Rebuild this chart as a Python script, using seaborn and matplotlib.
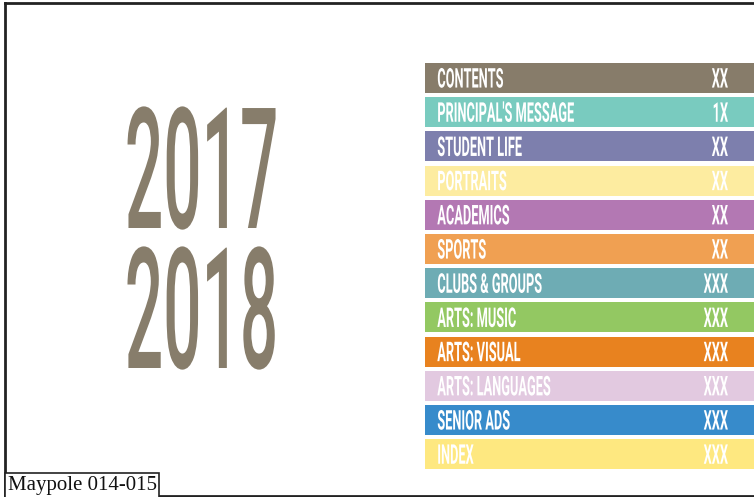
import matplotlib
matplotlib.use("Agg")
import matplotlib.pyplot as plt
import matplotlib.patheffects as pe
from matplotlib.transforms import Affine2D
from matplotlib.lines import Line2D
import seaborn as sns
import pandas as pd

# ---------------- data ----------------
sections = ["CONTENTS", "PRINCIPAL'S MESSAGE", "STUDENT LIFE", "PORTRAITS",
            "ACADEMICS", "SPORTS", "CLUBS & GROUPS", "ARTS: MUSIC",
            "ARTS: VISUAL", "ARTS: LANGUAGES", "SENIOR ADS", "INDEX"]
pages = ["XX", "1X", "XX", "XX", "XX", "XX", "XXX", "XXX", "XXX", "XXX", "XXX", "XXX"]
bar_colors = ["#877c6a", "#79cbbf", "#7d7fad", "#fdeca0", "#b378b3", "#f0a052",
              "#6eacb4", "#93c862", "#e8821f", "#e2c9e0", "#378bcb", "#fee880"]
bar_length = [1] * len(sections)
years = ["2017", "2018"]
footer = "Maypole 014-015"

YEAR_COLOR = "#877d6b"


class Condensed(pe.AbstractPathEffect):
    """Stretch rendered text vertically (about its baseline) so a small,
    narrow Text artist draws as tall condensed lettering."""
    def __init__(self, sy):
        super().__init__()
        self.sy = sy

    def draw_path(self, renderer, gc, tpath, affine, rgbFace=None):
        base_y = affine.get_matrix()[1, 2]
        t = affine + Affine2D().translate(0, -base_y).scale(1, self.sy).translate(0, base_y)
        renderer.draw_path(gc, tpath, t, rgbFace)


W, H = 754, 497
fig = plt.figure(figsize=(W / 100, H / 100), dpi=100, facecolor="white")

# bars axes
ax = fig.add_axes([425 / W, 1 - 469.3 / H, 1 - 425 / W, (469.3 - 63) / H])
df = pd.DataFrame({"section": sections, "length": bar_length})
sns.barplot(data=df, x="length", y="section", hue="section", palette=bar_colors,
            orient="h", width=0.88, saturation=1, legend=False, linewidth=0, ax=ax)
ax.set_xlim(0, 1)
ax.set_ylim(len(sections) - 1 + 0.44, -0.44)
ax.axis("off")

lab_font = ["Roboto", "DejaVu Sans"]
LAB_SQ = 0.47
for i, (s, p) in enumerate(zip(sections, pages)):
    ax.text(0.0374, i + 0.278, s, color="white", fontsize=19.6 * LAB_SQ, fontweight="bold",
            family=lab_font, ha="left", va="baseline",
            path_effects=[Condensed(1 / LAB_SQ)])
    ax.text(0.921, i + 0.278, p, color="white", fontsize=19.6 * LAB_SQ, fontweight="bold",
            family=lab_font, ha="right", va="baseline",
            path_effects=[Condensed(1 / LAB_SQ)])

# years
YR_SQ = 0.40
for yr, base in zip(years, [228, 368]):
    fig.text(201.5 / W, 1 - base / H, yr, color=YEAR_COLOR, fontsize=121.5 * YR_SQ,
             fontweight="medium", family=lab_font, ha="center", va="baseline",
             path_effects=[Condensed(1 / YR_SQ)])

# footer label
fig.text(7.5 / W, 1 - 490 / H, footer, family=["Liberation Serif", "DejaVu Serif"],
         fontsize=15, color="#111111", ha="left", va="baseline",
         bbox=dict(boxstyle="square,pad=0.14", fc="white", ec="#222222", lw=1.2))

# page border (top, left, bottom)
bc = "#222222"
fig.add_artist(Line2D([5 / W, 1], [1 - 3 / H, 1 - 3 / H], color=bc, lw=2, transform=fig.transFigure))
fig.add_artist(Line2D([5 / W, 5 / W], [1 - 3 / H, 1 - 495.5 / H], color=bc, lw=2, transform=fig.transFigure))
fig.add_artist(Line2D([5 / W, 1], [1 - 495.5 / H, 1 - 495.5 / H], color=bc, lw=2, transform=fig.transFigure))

fig.savefig("out.png", dpi=100, facecolor="white")
